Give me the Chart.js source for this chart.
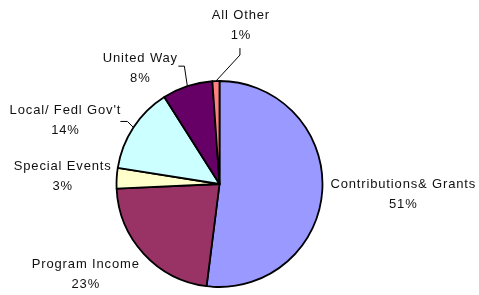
<!DOCTYPE html>
<html>
<head>
<meta charset="utf-8">
<script src="https://cdn.jsdelivr.net/npm/chart.js@4"></script>
<style>
  html, body { margin: 0; padding: 0; background: #fff; }
  #wrap { width: 479px; height: 295px; }
</style>
</head>
<body>
<div id="wrap"><canvas id="pie" width="479" height="295"></canvas></div>
<script>
// ——— DATA ———
const categories = ['Contributions& Grants', 'Program Income', 'Special Events', 'Local/ Fedl Gov\'t', 'United Way', 'All Other'];
const shares     = [52.0, 22.3, 3.2, 13.5, 7.9, 1.1];
const pctLabels  = ['51%', '23%', '3%', '14%', '8%', '1%'];
const colors     = ['#9999FF', '#993366', '#FFFFCC', '#CCFFFF', '#660066', '#FF8080'];

// label placement, relative to the slice's outer mid point (Excel moved these by hand)
const labelPlace = [
  { text: [81, -6],   leader: null },
  { text: [-58, 11],  leader: null },
  { text: [-54, -12], leader: null },
  { text: [-68, -17], leader: [[-13, -6], [-6, -6]] },
  { text: [-47, -28], leader: [[-9, -20], [-3, -20]] },
  { text: [25, -66],  leader: [[24, -33], [24, -26]] },
];

// ——— LABEL PLUGIN ———
const sliceLabels = {
  id: 'sliceLabels',
  afterDatasetsDraw(chart) {
    const ctx = chart.ctx;
    const arcs = chart.getDatasetMeta(0).data;
    ctx.save();
    ctx.font = '13px "Liberation Sans", Arial, sans-serif';
    ctx.letterSpacing = '0.85px';
    ctx.fillStyle = '#111';
    ctx.strokeStyle = '#000';
    ctx.lineWidth = 1;
    ctx.textAlign = 'center';
    ctx.textBaseline = 'middle';
    arcs.forEach((arc, i) => {
      const p = arc.getProps(['x', 'y', 'startAngle', 'endAngle', 'outerRadius'], true);
      const mid = (p.startAngle + p.endAngle) / 2;
      const ex = p.x + Math.cos(mid) * p.outerRadius;
      const ey = p.y + Math.sin(mid) * p.outerRadius;
      const pl = labelPlace[i];
      if (pl.leader) {
        ctx.beginPath();
        ctx.moveTo(ex + pl.leader[0][0], ey + pl.leader[0][1]);
        ctx.lineTo(ex + pl.leader[1][0], ey + pl.leader[1][1]);
        ctx.lineTo(ex, ey);
        ctx.stroke();
      }
      const tx = ex + pl.text[0], ty = ey + pl.text[1];
      ctx.fillText(categories[i], tx, ty);
      ctx.fillText(pctLabels[i], tx, ty + 20);
    });
    ctx.restore();
  }
};

new Chart(document.getElementById('pie'), {
  type: 'pie',
  data: {
    labels: categories,
    datasets: [{
      data: shares,
      backgroundColor: colors,
      borderColor: '#000',
      borderWidth: 1.8,
      borderJoinStyle: 'round',
    }]
  },
  options: {
    responsive: false,
    animation: false,
    radius: 103,
    layout: { padding: { left: 0, right: 40, top: 73, bottom: 0 } },
    plugins: {
      legend: { display: false },
      tooltip: { enabled: false },
    }
  },
  plugins: [sliceLabels]
});
</script>
</body>
</html>
